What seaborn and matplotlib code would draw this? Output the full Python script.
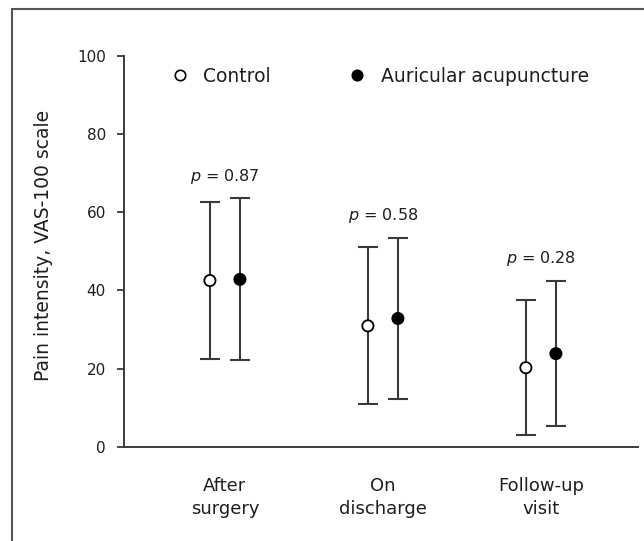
import matplotlib
matplotlib.use('Agg')
import pandas as pd
import seaborn as sns
import matplotlib.pyplot as plt
from matplotlib.lines import Line2D

# values (mean +/- SD, VAS-100)
timepoints = ['After\nsurgery', 'On\ndischarge', 'Follow-up\nvisit']
groups = ['Control', 'Auricular acupuncture']
control_mean = [42.5, 30.9, 20.2]
control_sd = [20.0, 20.1, 17.2]
acup_mean = [42.8, 32.8, 23.8]
acup_sd = [20.7, 20.7, 18.6]
p_values = ['0.87', '0.58', '0.28']

sns.set_style('white')
plt.rcParams['font.family'] = ['DejaVu Sans']
plt.rcParams['mathtext.fontset'] = 'dejavusans'

ink = '#1e1e1e'
line_col = '#3a3a3a'
palette = {'Control': 'white', 'Auricular acupuncture': 'black'}
offset = {'Control': -0.095, 'Auricular acupuncture': 0.095}

rows = []
for i, tp in enumerate(timepoints):
    rows.append(dict(tp=i, group='Control', mean=control_mean[i], sd=control_sd[i]))
    rows.append(dict(tp=i, group='Auricular acupuncture', mean=acup_mean[i], sd=acup_sd[i]))
df = pd.DataFrame(rows)
df['x'] = df['tp'] + df['group'].map(offset)

fig = plt.figure(figsize=(6.44, 5.41), dpi=100)
ax = fig.add_axes([0.1925, 0.1743, 0.798, 0.7227])

ax.errorbar(df['x'], df['mean'], yerr=df['sd'], fmt='none', ecolor=line_col,
            elinewidth=1.5, capsize=7.5, capthick=1.5, zorder=2)
sns.scatterplot(data=df, x='x', y='mean', hue='group', palette=palette,
                s=65, edgecolor='black', linewidth=1.3, legend=False, ax=ax, zorder=3)

# p-value labels above each pair
for i, p in enumerate(p_values):
    top = max(control_mean[i] + control_sd[i], acup_mean[i] + acup_sd[i])
    ax.text(i, top + 5.7, '$p$ = ' + p, ha='center', va='center', fontsize=11.5, color=ink)

ax.set_xlim(-0.639, 2.614)
ax.set_ylim(0, 100)
ax.set_yticks([0, 20, 40, 60, 80, 100])
ax.set_xticks(range(len(timepoints)))
ax.set_xticklabels(timepoints, fontsize=13, color=ink, linespacing=1.35)
ax.tick_params(axis='x', length=0, pad=22)
ax.tick_params(axis='y', length=5, width=1.3, color=line_col, pad=8, labelsize=11, labelcolor=ink, direction='out', left=True)
ax.set_xlabel('')
ax.set_ylabel('Pain intensity, VAS-100 scale', fontsize=13.5, color=ink)
ax.yaxis.set_label_coords(-0.138, 0.515)

sns.despine(ax=ax, top=True, right=True)
for side in ['left', 'bottom']:
    ax.spines[side].set_color(line_col)
    ax.spines[side].set_linewidth(1.4)

handles = [Line2D([], [], marker='o', ls='', markerfacecolor=palette[g],
                  markeredgecolor='black', markeredgewidth=1.2, markersize=7.5) for g in groups]
ax.legend(handles, groups, ncol=2, frameon=False, fontsize=13.5, loc='center left',
          bbox_to_anchor=(0.265, 0.8595), bbox_transform=fig.transFigure,
          borderpad=0, borderaxespad=0, handlelength=1.0, handletextpad=0.75,
          columnspacing=4.1, labelcolor=ink)

# thin frame around the figure (only left and top edges are visible)
fig.add_artist(Line2D([12 / 644, 12 / 644], [0, 1 - 9 / 541], transform=fig.transFigure,
                      color='#555555', lw=1.5))
fig.add_artist(Line2D([12 / 644, 1], [1 - 9 / 541, 1 - 9 / 541], transform=fig.transFigure,
                      color='#555555', lw=1.5))

fig.savefig('out.png', dpi=100)
